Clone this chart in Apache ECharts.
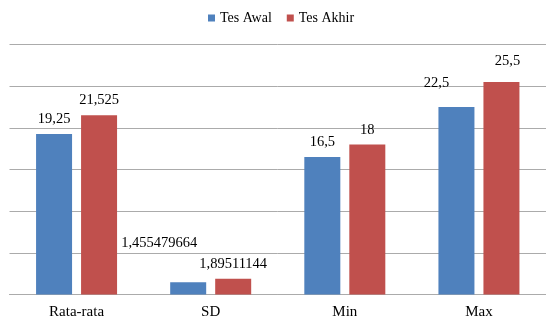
<!DOCTYPE html>
<html>
<head>
<meta charset="utf-8">
<script src="https://cdn.jsdelivr.net/npm/echarts@6/dist/echarts.min.js"></script>
<style>
  html, body { margin: 0; padding: 0; background: #fff; }
  #chart { width: 546px; height: 320px; }
</style>
</head>
<body>
<div id="chart"></div>
<script>
// Statistik nilai tes
const categories = ['Rata-rata', 'SD', 'Min', 'Max'];
const tesAwal = [19.25, 1.455479664, 16.5, 22.5];
const tesAkhir = [21.525, 1.89511144, 18, 25.5];
const seriesNames = ['Tes Awal', 'Tes Akhir'];

// Hand-placed label nudges (per bar index) so labels don't collide
const awalLabelOffsets = [[0, 0], [-29, -25], [0, 0], [-20, -9]];
const akhirLabelOffsets = [[0, 0], [0, 0], [0, 0], [6, -6]];

const FONT = '"Liberation Serif", "Times New Roman", serif';
const fmt = v => String(v).replace('.', ',');

function buildData(values, offsets) {
  return values.map((v, i) => ({
    value: v,
    label: { offset: offsets[i] }
  }));
}

const labelStyle = {
  show: true,
  position: 'top',
  distance: 7,
  fontFamily: FONT,
  fontSize: 14.5,
  color: '#000',
  formatter: p => fmt(p.value)
};

const chart = echarts.init(document.getElementById('chart'), null, { renderer: 'canvas' });
chart.setOption({
  animation: false,
  backgroundColor: '#fff',
  legend: {
    data: seriesNames,
    left: 203,
    top: 6,
    icon: 'rect',
    itemWidth: 7,
    itemHeight: 7,
    itemGap: 15,
    textStyle: { fontFamily: FONT, fontSize: 14, color: '#000' }
  },
  grid: { left: 9.5, width: 540, top: 44.5, bottom: 25.5, containLabel: false },
  xAxis: {
    type: 'category',
    data: categories,
    axisLine: { show: true, lineStyle: { color: '#ABABAB', width: 1 } },
    axisTick: { show: false },
    axisLabel: { fontFamily: FONT, fontSize: 15, color: '#000', margin: 10 }
  },
  yAxis: {
    type: 'value',
    min: 0,
    max: 30,
    interval: 5,
    axisLine: { show: false },
    axisTick: { show: false },
    axisLabel: { show: false },
    splitLine: { lineStyle: { color: '#ABABAB', width: 1 } }
  },
  series: [
    {
      name: seriesNames[0],
      type: 'bar',
      barWidth: 36,
      barGap: '25%',
      itemStyle: { color: '#4F81BD' },
      label: labelStyle,
      data: buildData(tesAwal, awalLabelOffsets)
    },
    {
      name: seriesNames[1],
      type: 'bar',
      barWidth: 36,
      barGap: '25%',
      itemStyle: { color: '#C0504D' },
      label: labelStyle,
      data: buildData(tesAkhir, akhirLabelOffsets)
    }
  ]
});
</script>
</body>
</html>
